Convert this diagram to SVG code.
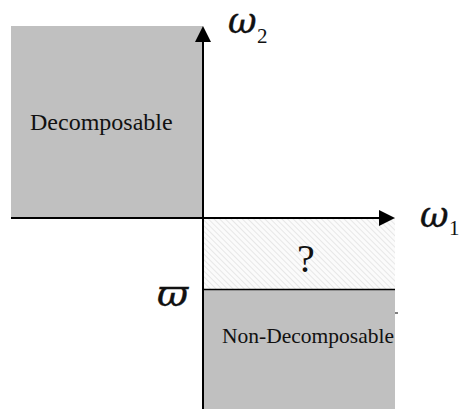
<svg xmlns="http://www.w3.org/2000/svg" width="459" height="412" viewBox="0 0 459 412">
<style>
.t{font-family:"Liberation Serif","Times New Roman",serif;fill:#111}
.gk{font-family:"DejaVu Serif","Liberation Serif",serif;font-style:italic;fill:#111;stroke:#111;stroke-width:0.4}
.ax{stroke:#000;stroke-width:2;fill:none}
</style>
<defs>
<pattern id="hatch" patternUnits="userSpaceOnUse" width="4" height="4" patternTransform="rotate(-45)">
<rect width="4" height="4" fill="#fbfbfb"/>
<line x1="0" y1="0" x2="0" y2="4" stroke="#e2e2e2" stroke-width="1.6"/>
</pattern>
</defs>
<rect width="459" height="412" fill="#fff"/>
<g id="decomposable">
<rect x="11" y="26" width="192" height="192" fill="#c0c0c0"/>
<text class="t" x="30" y="130" font-size="24">Decomposable</text>
</g>
<g id="unknown">
<rect x="203" y="218" width="192" height="71" fill="url(#hatch)"/>
<text class="t" x="306" y="272" font-size="40" text-anchor="middle">?</text>
</g>
<g id="non-decomposable">
<rect x="203" y="289" width="192" height="120" fill="#c0c0c0"/>
<text class="t" x="222" y="343" font-size="21.5">Non-Decomposable</text>
<line x1="395" y1="313" x2="398" y2="313" stroke="#000" stroke-width="1"/>
</g>
<g id="connectors">
<line class="ax" x1="11" y1="218" x2="380" y2="218"/>
<polygon points="379,210 395,218 379,226" fill="#000"/>
<line class="ax" x1="203" y1="409" x2="203" y2="40"/>
<polygon points="195,42 203,26 211,42" fill="#000"/>
<line x1="203" y1="289.5" x2="395" y2="289.5" stroke="#000" stroke-width="1.5"/>
</g>
<g id="labels">
<text class="gk" x="420" y="227" font-size="35">ω</text>
<text class="t" x="449" y="235" font-size="21">1</text>
<text class="gk" x="228" y="33" font-size="35">ω</text>
<text class="t" x="257" y="43" font-size="21">2</text>
<text class="gk" x="157" y="306" font-size="38">ϖ</text>
</g>
</svg>
